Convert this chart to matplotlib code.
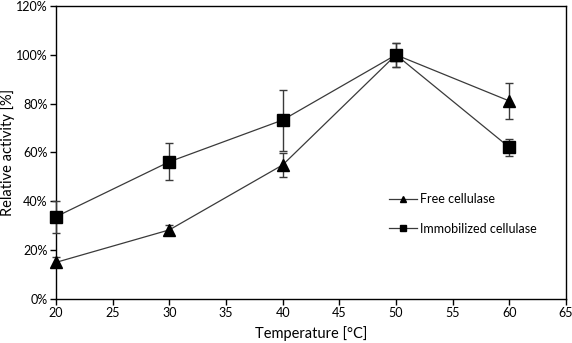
import matplotlib
matplotlib.use("Agg")
import matplotlib.pyplot as plt
from matplotlib.ticker import FuncFormatter
from matplotlib.lines import Line2D

temps = [20, 30, 40, 50, 60]
free_vals = [15.0, 28.3, 54.9, 100.0, 81.1]
free_err = [2.0, 2.0, 5.0, 5.0, 7.2]
immob_vals = [33.7, 56.2, 73.3, 100.0, 62.1]
immob_err = [6.5, 7.5, 12.5, 5.0, 3.4]
xticks = [20, 25, 30, 35, 40, 45, 50, 55, 60, 65]
yticks = [0, 20, 40, 60, 80, 100, 120]

plt.rcParams['font.family'] = ['Lato', 'DejaVu Sans']

fig = plt.figure(figsize=(5.72, 3.43), dpi=100)
ax = fig.add_axes([0.0979, 0.1283, 0.8916, 0.8542])

ax.errorbar(temps, free_vals, yerr=free_err, color='#3a3a3a', lw=0.9,
            marker='^', ms=8, mfc='black', mec='black', ecolor='#3a3a3a',
            elinewidth=1.0, capsize=3, capthick=1.0,
            clip_on=False, zorder=3)
ax.errorbar(temps, immob_vals, yerr=immob_err, color='#3a3a3a', lw=0.9,
            marker='s', ms=8, mfc='black', mec='black', ecolor='#3a3a3a',
            elinewidth=1.0, capsize=3, capthick=1.0,
            clip_on=False, zorder=3)

ax.set_xlim(20, 65)
ax.set_ylim(0, 120)
ax.set_xticks(xticks)
ax.set_yticks(yticks)
ax.yaxis.set_major_formatter(FuncFormatter(lambda v, p: f"{int(v)}%"))
ax.tick_params(axis='both', direction='out', length=4, width=1, labelsize=9, colors='black', pad=2)
for s in ax.spines.values():
    s.set_linewidth(1.0)
    s.set_color('black')

ax.set_xlabel('Temperature [°C]', fontsize=10.5, labelpad=5)
ax.set_ylabel('Relative activity [%]', fontsize=10.5)
ax.yaxis.set_label_coords(-0.081, 0.5)

handles = [
    Line2D([], [], color='#3a3a3a', lw=0.9, marker='^', ms=5, mfc='black', mec='black'),
    Line2D([], [], color='#3a3a3a', lw=0.9, marker='s', ms=5, mfc='black', mec='black'),
]
ax.legend(handles, ['Free cellulase', 'Immobilized cellulase'],
          loc='center left', bbox_to_anchor=(0.63, 0.29), frameon=False,
          fontsize=9, handlelength=2.3, labelspacing=1.4, handletextpad=0.2)

fig.savefig('out.png', dpi=100)
